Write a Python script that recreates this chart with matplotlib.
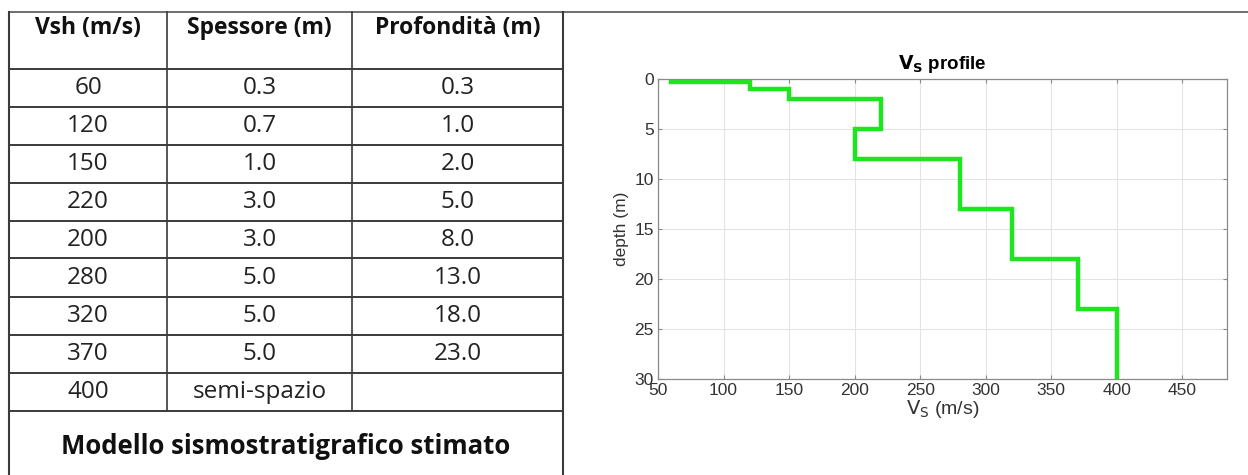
import numpy as np
import matplotlib
matplotlib.use("Agg")
import matplotlib.pyplot as plt

# layer model
vs = [60, 120, 150, 220, 200, 280, 320, 370, 400]
spessore = ["0.3", "0.7", "1.0", "3.0", "3.0", "5.0", "5.0", "5.0", "semi-spazio"]
profondita = ["0.3", "1.0", "2.0", "5.0", "8.0", "13.0", "18.0", "23.0", ""]
tops = [0, 0.3, 1, 2, 5, 8, 13, 18, 23]
max_depth = 30

headers = ["Vsh (m/s)", "Spessore (m)", "Profondità (m)"]
footer = "Modello sismostratigrafico stimato"

W, H = 1248, 475
fig = plt.figure(figsize=(W / 100, H / 100), dpi=100)

# ---- table drawn in pixel coords ----
tab = fig.add_axes([0, 0, 1, 1])
tab.set_xlim(0, W)
tab.set_ylim(H, 0)
tab.axis("off")

col_x = [9, 167, 352, 563]
row_y = [12, 69, 107, 145, 183, 221, 258, 297, 335, 373, 411]
lc = "#3a3a3a"
tfont = "Open Sans"

# top rule across the full width
tab.plot([col_x[0], W], [row_y[0], row_y[0]], color="#555555", lw=1.2)
# outer verticals down to bottom
for x in (col_x[0], col_x[-1]):
    tab.plot([x, x], [row_y[0], H + 5], color=lc, lw=1.5)
for x in col_x[1:-1]:
    tab.plot([x, x], [row_y[0], row_y[-1]], color=lc, lw=1.2)
for y in row_y[1:]:
    tab.plot([col_x[0], col_x[-1]], [y, y], color=lc, lw=1.4)

for i, h in enumerate(headers):
    cx = (col_x[i] + col_x[i + 1]) / 2
    tab.text(cx, 28, h, ha="center", va="center", fontsize=16.5,
             fontweight="bold", family=tfont, color="#111111")

for r in range(len(vs)):
    cy = (row_y[r + 1] + row_y[r + 2]) / 2
    vals = [str(vs[r]), spessore[r], profondita[r]]
    for i, v in enumerate(vals):
        cx = (col_x[i] + col_x[i + 1]) / 2
        tab.text(cx, cy, v, ha="center", va="center", fontsize=17.5,
                 family=tfont, color="#222222")

tab.text((col_x[0] + col_x[-1]) / 2, 447, footer, ha="center", va="center",
         fontsize=18.5, fontweight="bold", family=tfont, color="#111111")

# ---- Vs profile ----
ax = fig.add_axes([658 / W, 1 - 379 / H, (1227 - 658) / W, 300 / H])
bottoms = tops[1:] + [max_depth]
x = np.repeat(vs, 2)
y = np.ravel(np.column_stack([tops, bottoms]))
ax.plot(x, y, color="#1ee61e", lw=3.2, solid_joinstyle="miter")

ax.set_xlim(50, 484)
ax.set_ylim(max_depth, 0)
ax.set_xticks(np.arange(50, 451, 50))
ax.set_yticks(np.arange(0, 31, 5))
ax.grid(True, color="#e3e3e3", lw=0.8)
ax.set_axisbelow(True)
ax.tick_params(direction="in", length=3, top=True, right=True,
               labelsize=12.5, colors="#8a8a8a", labelcolor="#333333", pad=3)
for s in ax.spines.values():
    s.set_color("#8a8a8a")
    s.set_linewidth(0.9)

lfont = "Liberation Sans"
plt.rcParams["mathtext.fontset"] = "custom"
plt.rcParams["mathtext.rm"] = lfont
plt.rcParams["mathtext.bf"] = lfont + ":bold"
ax.set_title(r"$\mathbf{V_S}$ profile", fontsize=13.5, fontweight="bold",
             family=lfont, pad=7)
ax.set_xlabel(r"$\mathrm{V_S}$ (m/s)", fontsize=14, family=lfont, color="#333333", labelpad=0)
ax.set_ylabel("depth (m)", fontsize=12.5, family=lfont, color="#333333", labelpad=4)
for lab in ax.get_xticklabels() + ax.get_yticklabels():
    lab.set_family(lfont)

fig.savefig("out.png", dpi=100)
